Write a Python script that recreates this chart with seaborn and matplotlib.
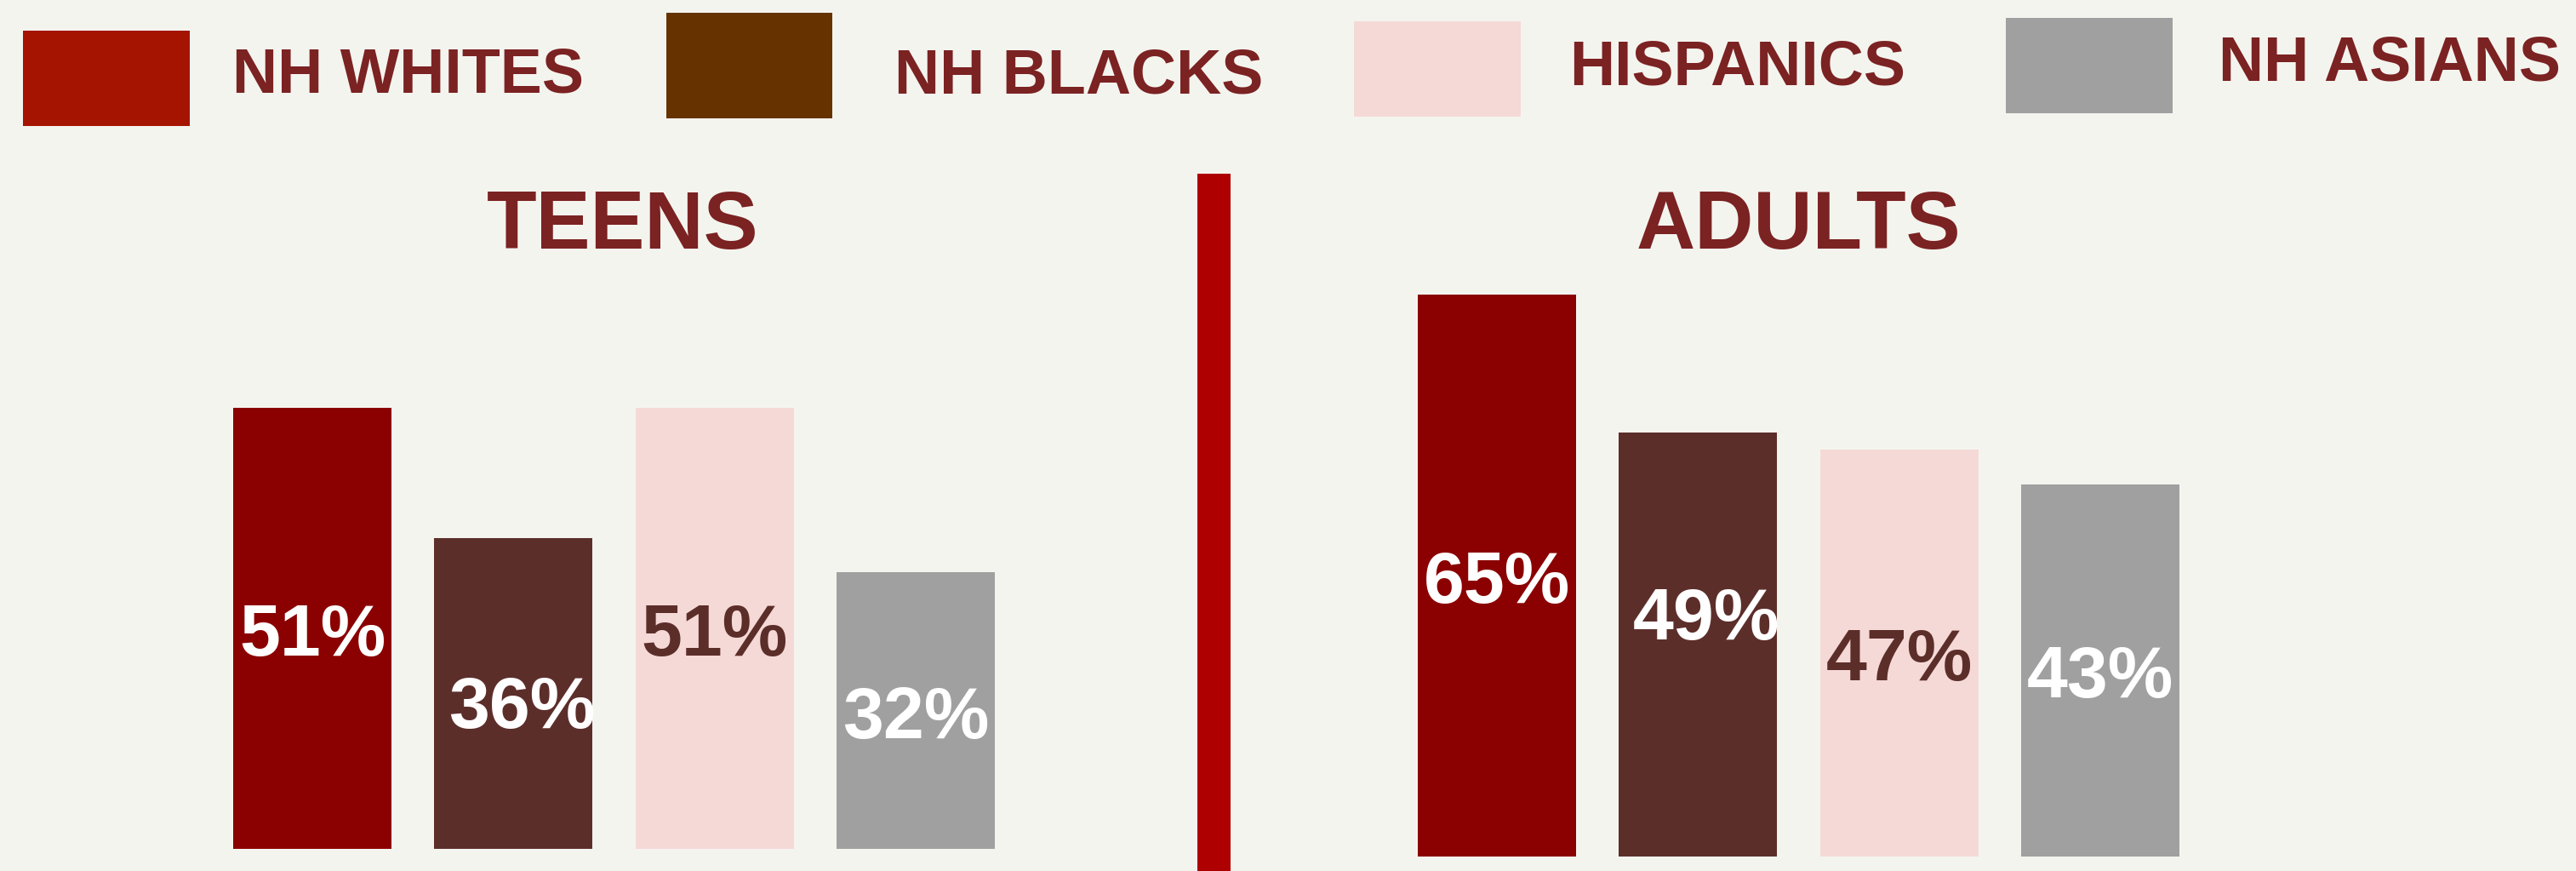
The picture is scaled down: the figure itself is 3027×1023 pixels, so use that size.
import matplotlib
matplotlib.use("Agg")
import matplotlib.pyplot as plt
from matplotlib.patches import Rectangle
from matplotlib.transforms import offset_copy
import seaborn as sns

# ---- data -------------------------------------------------------------
groups = ["NH WHITES", "NH BLACKS", "HISPANICS", "NH ASIANS"]
teens = [51, 36, 51, 32]
adults = [65, 49, 47, 43]
panel_titles = ["TEENS", "ADULTS"]

# ---- styling ----------------------------------------------------------
bar_colors = ["#8B0000", "#5C2E2A", "#F5D9D7", "#A0A0A0"]
legend_colors = ["#A51400", "#663300", "#F5D9D7", "#A0A0A0"]
label_colors = ["white", "white", "#5C2E2A", "white"]
text_color = "#7B2222"
bg = "#F4F4EF"
divider_color = "#AE0000"

sns.set_theme(style="white")
plt.rcParams["font.family"] = ["Liberation Sans", "DejaVu Sans"]
plt.rcParams["font.weight"] = "bold"

W, H = 3027, 1023
DPI = 100
fig = plt.figure(figsize=(W / DPI, H / DPI), dpi=DPI, facecolor=bg)


def fx(x):
    return x / W


def fy(y):
    return 1 - y / H


# panel geometry in pixels (left edge, baseline from top)
pitch = 236.3
ax_w = 4 * pitch
ymax = 70
px_per_unit = 10.15
ax_h = ymax * px_per_unit
panels = [
    dict(left=248.85, base=997.0, vals=teens, title=panel_titles[0], tx=732),
    dict(left=1640.85, base=1005.5, vals=adults, title=panel_titles[1], tx=2113),
]

# small hand nudges (pixels) for a couple of value labels
nudges = {(0, 1): (10, -9), (1, 1): (10, 38)}

for p_i, p in enumerate(panels):
    ax = fig.add_axes([fx(p["left"]), (H - p["base"]) / H, ax_w / W, ax_h / H])
    ax.set_facecolor("none")
    sns.barplot(x=groups, y=p["vals"], hue=groups, palette=bar_colors,
                saturation=1, width=0.787, legend=False, ax=ax, linewidth=0)
    ax.set_xlim(-0.5, 3.5)
    ax.set_ylim(0, ymax)
    ax.set_axis_off()
    for i, v in enumerate(p["vals"]):
        dx, dy = nudges.get((p_i, i), (0, 0))
        tr = offset_copy(ax.transData, fig=fig, x=dx, y=dy - 32, units="dots")
        ax.text(i, v / 2, f"{v}%", transform=tr, ha="center", va="baseline",
                color=label_colors[i], fontsize=62, fontweight="bold")
    fig.text(fx(p["tx"]), fy(292), p["title"], ha="center", va="baseline",
             color=text_color, fontsize=69, fontweight="bold")

# vertical divider between the panels
fig.patches.append(Rectangle((fx(1407), 0), fx(1446) - fx(1407), fy(204),
                             transform=fig.transFigure, facecolor=divider_color,
                             edgecolor="none"))

# legend row: (patch left, right, top, bottom), (text left, cap bottom)
legend_boxes = [(27, 223, 36, 148), (783, 978, 15, 139),
                (1591, 1787, 25, 137), (2357, 2553, 21, 133)]
legend_text_pos = [(273, 110), (1051, 110), (1844, 100), (2607, 96)]
for name, col, (l, r, t, b), (tx, tb) in zip(groups, legend_colors,
                                               legend_boxes, legend_text_pos):
    fig.patches.append(Rectangle((fx(l), fy(b)), fx(r) - fx(l), fy(t) - fy(b),
                                 transform=fig.transFigure, facecolor=col,
                                 edgecolor="none"))
    fig.text(fx(tx), fy(tb), name, ha="left", va="baseline", color=text_color,
             fontsize=53, fontweight="bold")

fig.savefig("out.png", dpi=DPI, facecolor=bg)
